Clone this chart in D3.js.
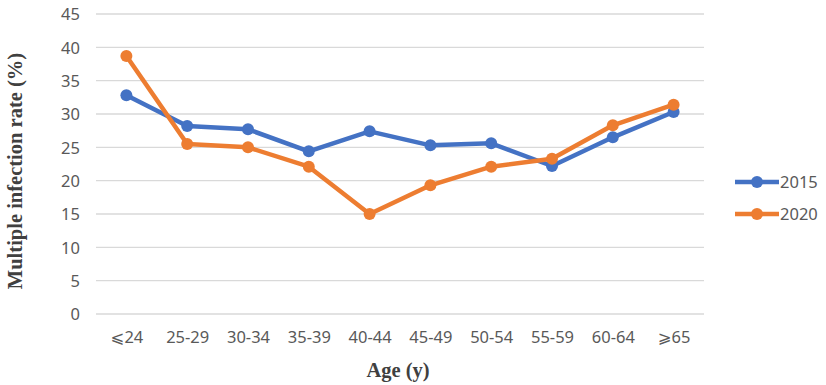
<!DOCTYPE html>
<meta charset="utf-8">
<style>
body { margin: 0; background: #fff; }
text { font-family: "Noto Sans", "DejaVu Sans", sans-serif; }
.grid line { stroke: #d9d9d9; stroke-width: 1.3px; }
.tick text { fill: #595959; font-size: 16.5px; font-family: "Noto Sans", "DejaVu Sans", sans-serif; }
.title { font-family: "Liberation Serif", "Times New Roman", serif; font-weight: bold; font-size: 20.5px; fill: #404040; }
</style>
<svg width="826" height="385"></svg>
<script src="https://d3js.org/d3.v7.min.js"></script>
<script>

var ages = ["⩽24", "25-29", "30-34", "35-39", "40-44", "45-49", "50-54", "55-59", "60-64", "⩾65"];
var rate2015 = [32.8, 28.2, 27.7, 24.4, 27.4, 25.3, 25.6, 22.2, 26.5, 30.3];
var rate2020 = [38.7, 25.5, 25.0, 22.1, 15.0, 19.3, 22.1, 23.3, 28.3, 31.4];
var yTicks = [0, 5, 10, 15, 20, 25, 30, 35, 40, 45];

var series = [
  { name: "2015", values: rate2015, color: "#4472C4" },
  { name: "2020", values: rate2020, color: "#ED7D31" }
];

var svg = d3.select("svg");

var x = d3.scalePoint().domain(ages).range([96, 704]).padding(0.5);
var y = d3.scaleLinear().domain([0, 45]).range([314, 14]);

// gridlines
svg.append("g")
    .attr("class", "grid")
  .selectAll("line")
  .data(yTicks)
  .enter().append("line")
    .attr("x1", 96)
    .attr("x2", 704)
    .attr("y1", function(d) { return y(d); })
    .attr("y2", function(d) { return y(d); });

// y axis labels
var yAxis = svg.append("g")
    .attr("transform", "translate(80,0)")
    .call(d3.axisLeft(y).tickValues(yTicks).tickSize(0).tickPadding(0));
yAxis.select(".domain").remove();
yAxis.selectAll(".tick text").attr("dy", "0.35em");

// x axis labels
var xAxis = svg.append("g")
    .attr("transform", "translate(0,337)")
    .call(d3.axisBottom(x).tickSize(0).tickPadding(0));
xAxis.select(".domain").remove();
xAxis.selectAll(".tick text").attr("dy", "0.35em");

var line = d3.line()
    .x(function(d, i) { return x(ages[i]); })
    .y(function(d) { return y(d); });

var g = svg.selectAll(".series")
  .data(series)
  .enter().append("g")
    .attr("class", "series");

g.append("path")
    .attr("fill", "none")
    .attr("stroke", function(d) { return d.color; })
    .attr("stroke-width", 4.5)
    .attr("stroke-linejoin", "round")
    .attr("d", function(d) { return line(d.values); });

g.each(function(s) {
  d3.select(this).selectAll("circle")
    .data(s.values)
    .enter().append("circle")
      .attr("cx", function(d, i) { return x(ages[i]); })
      .attr("cy", function(d) { return y(d); })
      .attr("r", 6)
      .attr("fill", s.color);
});

// legend
var legend = svg.selectAll(".legend")
  .data(series)
  .enter().append("g")
    .attr("class", "legend")
    .attr("transform", function(d, i) { return "translate(735," + (182 + i * 32) + ")"; });

legend.append("line")
    .attr("x1", 0).attr("x2", 44)
    .attr("stroke", function(d) { return d.color; })
    .attr("stroke-width", 4.5);

legend.append("circle")
    .attr("cx", 22)
    .attr("r", 6)
    .attr("fill", function(d) { return d.color; });

legend.append("text")
    .attr("x", 45)
    .attr("dy", "0.35em")
    .attr("fill", "#595959")
    .style("font-size", "16.5px")
    .text(function(d) { return d.name; });

// axis titles
svg.append("text")
    .attr("class", "title")
    .attr("text-anchor", "middle")
    .attr("transform", "translate(22,171) rotate(-90)")
    .text("Multiple infection rate (%)");

svg.append("text")
    .attr("class", "title")
    .attr("text-anchor", "middle")
    .attr("x", 398)
    .attr("y", 377)
    .text("Age (y)");

</script>
